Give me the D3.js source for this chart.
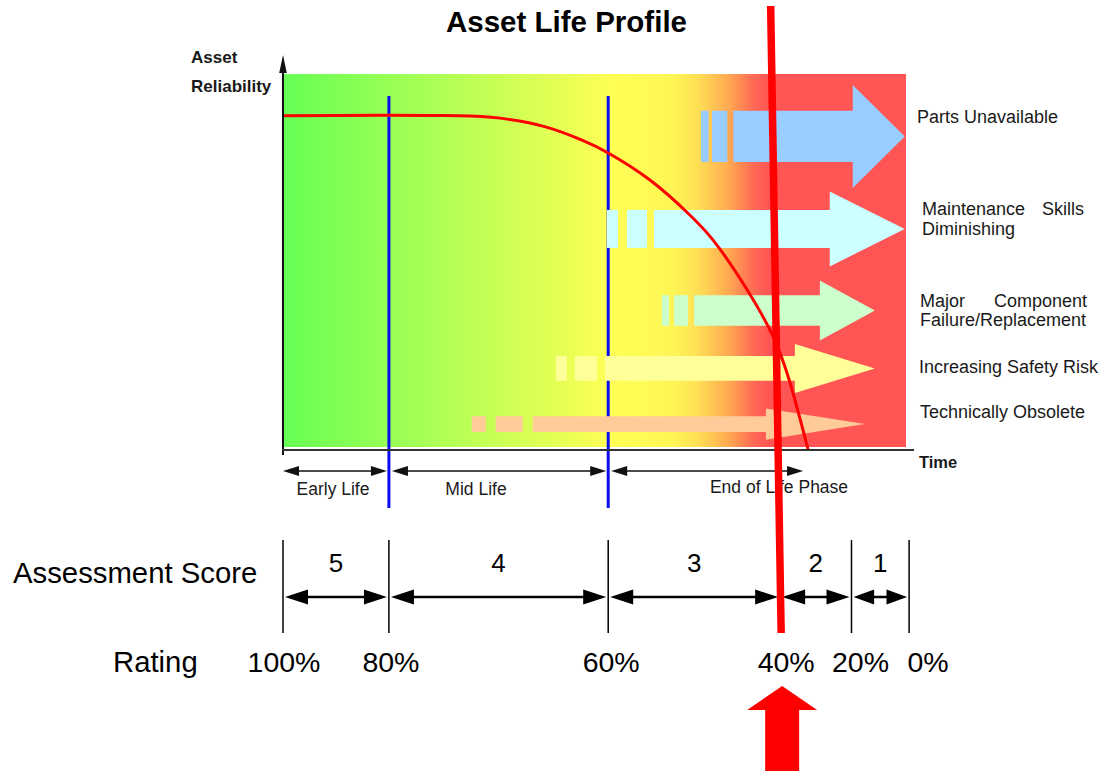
<!DOCTYPE html>
<html>
<head>
<meta charset="utf-8">
<title>Asset Life Profile</title>
<script src="https://cdn.jsdelivr.net/npm/d3@7"></script>
<style>
  html, body { margin: 0; padding: 0; background: #ffffff; }
  svg { display: block; }
  text { font-family: "Liberation Sans", Arial, Helvetica, sans-serif; }
</style>
</head>
<body>
<svg id="chart" width="1114" height="771"></svg>
<script>
// ---- Reliability curve (time in % of asset life, reliability in %) ----
const curveTime        = [0, 16, 24, 30, 36, 42, 48, 52.2, 58.9, 65.3, 69, 74.5, 78.7, 80.9, 84.3];
const curveReliability = [88.9, 89.0, 88.95, 88.8, 88.0, 86.0, 82.4, 79.0, 71.8, 62.5, 55.9, 42.6, 30.1, 20.5, 0];

// ---- Life phases (boundaries on the time axis) ----
const phaseNames  = ["Early Life", "Mid Life", "End of Life Phase"];
const phaseBounds = [0, 17, 52.2, 83.8];

// ---- End-of-life factors drawn as block arrows ----
const factorNames = [
  ["Parts Unavailable"],
  ["Maintenance Skills", "Diminishing"],
  ["Major Component", "Failure/Replacement"],
  ["Increasing Safety Risk"],
  ["Technically Obsolete"]
];
const factorStart = [67.1, 52.0, 60.8, 43.8, 30.3];   // time where the dashed tail begins
const factorEnd   = [99.8, 99.8, 95.0, 95.0, 93.4];   // time of the arrow tip
const factorLevel = [83.4, 58.8, 37.1, 21.7, 6.9];    // reliability level of the arrow centre line

// ---- Assessment scale ----
const scores       = [5, 4, 3, 2, 1];
const ratings      = [100, 80, 60, 40, 20, 0];
const ratingLabels = ["100%", "80%", "60%", "40%", "20%", "0%"];
const ratingTime   = [0, 17, 52.2, 79.8, 91.25, 100.5];   // where each rating boundary falls on the time axis
const currentRating = 40;

// ---- Styling / layout ----
const factorColors = ["#99ccff", "#ccffff", "#ccffcc", "#ffff99", "#ffcc99"];
const factorShape = [   // shaft height, head height, head length, tail dashes [d1, gap1, d2, gap2]
  { shaft: 51.3, head: 103, headLen: 52, dash: [7.6, 3.4, 15.3, 6] },
  { shaft: 38,   head: 75,  headLen: 75, dash: [11, 9, 20, 7] },
  { shaft: 30.7, head: 60,  headLen: 55, dash: [7.3, 5, 14, 6] },
  { shaft: 24.7, head: 49,  headLen: 80, dash: [11, 8, 22, 8] },
  { shaft: 15.7, head: 31.3, headLen: 99, dash: [14, 10, 27, 10] }
];
const labelLayout = [   // x, first baseline, right edge for justified first line
  { x: 917, y: 123.3, right: null },
  { x: 922, y: 215,   right: 1084 },
  { x: 920, y: 306.7, right: 1087 },
  { x: 919, y: 372.7, right: null },
  { x: 920, y: 418.3, right: null }
];
const ratingLabelShift = [1, 2, 3, 6, 9, 19];

const svg = d3.select("#chart");

const x = d3.scaleLinear().domain([0, 100]).range([283, 906]);
const y = d3.scaleLinear().domain([0, 100]).range([450, 74]);
const xRating = d3.scaleLinear().domain(ratings).range(ratingTime.map(t => x(t)));

// ---- Background gradient panel ----
const defs = svg.append("defs");
const grad = defs.append("linearGradient")
  .attr("id", "lifeGradient")
  .attr("gradientUnits", "userSpaceOnUse")
  .attr("x1", x(0)).attr("x2", x(100)).attr("y1", 0).attr("y2", 0);
[
  [0, "#66ff55"], [0.53, "#ffff55"], [0.625, "#fff655"],
  [0.665, "#ffe055"], [0.715, "#ffaa52"], [0.755, "#ff6a55"],
  [0.78, "#ff5555"], [1, "#ff5555"]
].forEach(([o, c]) => grad.append("stop").attr("offset", o).attr("stop-color", c));

svg.append("rect")
  .attr("x", x(0) + 1).attr("y", y(100))
  .attr("width", x(100) - x(0) - 1).attr("height", y(0) - y(100) - 3)
  .attr("fill", "url(#lifeGradient)");

// ---- Blue phase boundary lines ----
const blueG = svg.append("g");
blueG.selectAll("line")
  .data(phaseBounds.slice(1, 3))
  .join("line")
  .attr("x1", d => x(d)).attr("x2", d => x(d))
  .attr("y1", 96).attr("y2", 508)
  .attr("stroke", "#0c0cf2").attr("stroke-width", 3);

// ---- Factor arrows ----
const arrowG = svg.append("g");
factorNames.forEach((name, i) => {
  const s = factorShape[i];
  const cy = y(factorLevel[i]);
  const x0 = x(factorStart[i]);
  const tip = x(factorEnd[i]);
  const hb = tip - s.headLen;
  const [d1, g1, d2, g2] = s.dash;
  const col = factorColors[i];
  const g = arrowG.append("g").attr("fill", col);
  g.append("rect").attr("x", x0).attr("y", cy - s.shaft / 2).attr("width", d1).attr("height", s.shaft);
  g.append("rect").attr("x", x0 + d1 + g1).attr("y", cy - s.shaft / 2).attr("width", d2).attr("height", s.shaft);
  const xs = x0 + d1 + g1 + d2 + g2;
  const pts = [
    [xs, cy - s.shaft / 2], [hb, cy - s.shaft / 2], [hb, cy - s.head / 2],
    [tip, cy], [hb, cy + s.head / 2], [hb, cy + s.shaft / 2], [xs, cy + s.shaft / 2]
  ];
  g.append("polygon").attr("points", pts.map(p => p.join(",")).join(" "));
});

// ---- Reliability curve ----
const line = d3.line()
  .x((d, i) => x(curveTime[i]))
  .y(d => y(d))
  .curve(d3.curveCatmullRom.alpha(0.5));
svg.append("path")
  .datum(curveReliability)
  .attr("d", line)
  .attr("fill", "none")
  .attr("stroke", "#ff0000")
  .attr("stroke-width", 3);

// ---- Axes ----
const axisG = svg.append("g");
axisG.append("line")
  .attr("x1", x(0)).attr("x2", x(0)).attr("y1", y(0) + 5).attr("y2", 72)
  .attr("stroke", "#111").attr("stroke-width", 2);
axisG.append("polygon")
  .attr("points", `${x(0)},55 ${x(0) - 3.8},73 ${x(0) + 3.8},73`)
  .attr("fill", "#111");
axisG.append("line")
  .attr("x1", x(0) - 1).attr("x2", 914).attr("y1", y(0)).attr("y2", y(0))
  .attr("stroke", "#333").attr("stroke-width", 2);

axisG.append("text").attr("x", 191).attr("y", 63.3)
  .attr("font-size", 17).attr("font-weight", "bold").attr("fill", "#1a1a1a").text("Asset");
axisG.append("text").attr("x", 191).attr("y", 92.3)
  .attr("font-size", 17).attr("font-weight", "bold").attr("fill", "#1a1a1a").text("Reliability");
axisG.append("text").attr("x", 919).attr("y", 468)
  .attr("font-size", 16.5).attr("font-weight", "bold").attr("fill", "#1a1a1a").text("Time");

// ---- Title ----
svg.append("text")
  .attr("x", 566.5).attr("y", 32)
  .attr("text-anchor", "middle")
  .attr("font-size", 29.5).attr("font-weight", "bold").attr("fill", "#000")
  .text("Asset Life Profile");

// ---- Factor labels ----
const labelG = svg.append("g").attr("font-size", 18).attr("fill", "#1a1a1a");
factorNames.forEach((lines, i) => {
  const L = labelLayout[i];
  lines.forEach((txt, j) => {
    const by = L.y + j * 19.5;
    const words = txt.split(" ");
    if (j === 0 && L.right && words.length > 1) {
      labelG.append("text").attr("x", L.x).attr("y", by).text(words[0]);
      labelG.append("text").attr("x", L.right).attr("y", by)
        .attr("text-anchor", "end").text(words.slice(1).join(" "));
    } else {
      labelG.append("text").attr("x", L.x).attr("y", by).text(txt);
    }
  });
});

// ---- Double-headed dimension arrows ----
function dimArrow(g, xa, xb, yy, headLen, headH, width, color) {
  g.append("line")
    .attr("x1", xa + headLen * 0.5).attr("x2", xb - headLen * 0.5)
    .attr("y1", yy).attr("y2", yy)
    .attr("stroke", color).attr("stroke-width", width);
  g.append("polygon")
    .attr("points", `${xa},${yy} ${xa + headLen},${yy - headH / 2} ${xa + headLen},${yy + headH / 2}`)
    .attr("fill", color);
  g.append("polygon")
    .attr("points", `${xb},${yy} ${xb - headLen},${yy - headH / 2} ${xb - headLen},${yy + headH / 2}`)
    .attr("fill", color);
}

// ---- Phase arrows under the time axis ----
const phaseG = svg.append("g");
phaseNames.forEach((name, i) => {
  const xa = x(phaseBounds[i]) + (i === 0 ? 0 : 3);
  const xb = x(phaseBounds[i + 1]) - 2;
  dimArrow(phaseG, xa, xb, 471, 16, 10, 1.6, "#111");
});
const phaseLabelX = [333, 476, 779];
const phaseLabelY = [495, 495, 492.7];
phaseG.selectAll("text")
  .data(phaseNames)
  .join("text")
  .attr("x", (d, i) => phaseLabelX[i])
  .attr("y", (d, i) => phaseLabelY[i])
  .attr("text-anchor", "middle")
  .attr("font-size", 17.5)
  .attr("fill", "#1a1a1a")
  .text(d => d);

// ---- Assessment score scale ----
const scoreG = svg.append("g");
scoreG.append("text").attr("x", 13).attr("y", 583)
  .attr("font-size", 29.3).attr("fill", "#000").text("Assessment Score");
scoreG.append("text").attr("x", 113).attr("y", 672)
  .attr("font-size", 29.3).attr("fill", "#000").text("Rating");

scoreG.selectAll("line.tick")
  .data(ratings)
  .join("line")
  .attr("class", "tick")
  .attr("x1", d => xRating(d)).attr("x2", d => xRating(d))
  .attr("y1", 540).attr("y2", 633)
  .attr("stroke", "#000").attr("stroke-width", 1.5);

scores.forEach((s, i) => {
  const xa = xRating(ratings[i]) + 2;
  const xb = xRating(ratings[i + 1]) - 2;
  const hl = Math.min(23, (xb - xa) / 2.6);
  dimArrow(scoreG, xa, xb, 597, hl, 15, 2.5, "#000");
});

scoreG.selectAll("text.score")
  .data(scores)
  .join("text")
  .attr("class", "score")
  .attr("x", (d, i) => (xRating(ratings[i]) + xRating(ratings[i + 1])) / 2)
  .attr("y", 572)
  .attr("text-anchor", "middle")
  .attr("font-size", 26)
  .attr("fill", "#000")
  .text(d => d);

scoreG.selectAll("text.rating")
  .data(ratingLabels)
  .join("text")
  .attr("class", "rating")
  .attr("x", (d, i) => xRating(ratings[i]) + ratingLabelShift[i])
  .attr("y", 672)
  .attr("text-anchor", "middle")
  .attr("font-size", 28.5)
  .attr("fill", "#000")
  .text(d => d);

// ---- Current rating marker ----
const xm = xRating(currentRating);
svg.append("line")
  .attr("x1", xm - 9.5).attr("y1", 6)
  .attr("x2", xm + 1).attr("y2", 633)
  .attr("stroke", "#ff0000").attr("stroke-width", 7.5);
const ax = xm + 2;
svg.append("polygon")
  .attr("points", [
    [ax, 686], [ax + 35, 710], [ax + 17, 710], [ax + 17, 775],
    [ax - 17, 775], [ax - 17, 710], [ax - 35, 710]
  ].map(p => p.join(",")).join(" "))
  .attr("fill", "#ff0000");
</script>
</body>
</html>
